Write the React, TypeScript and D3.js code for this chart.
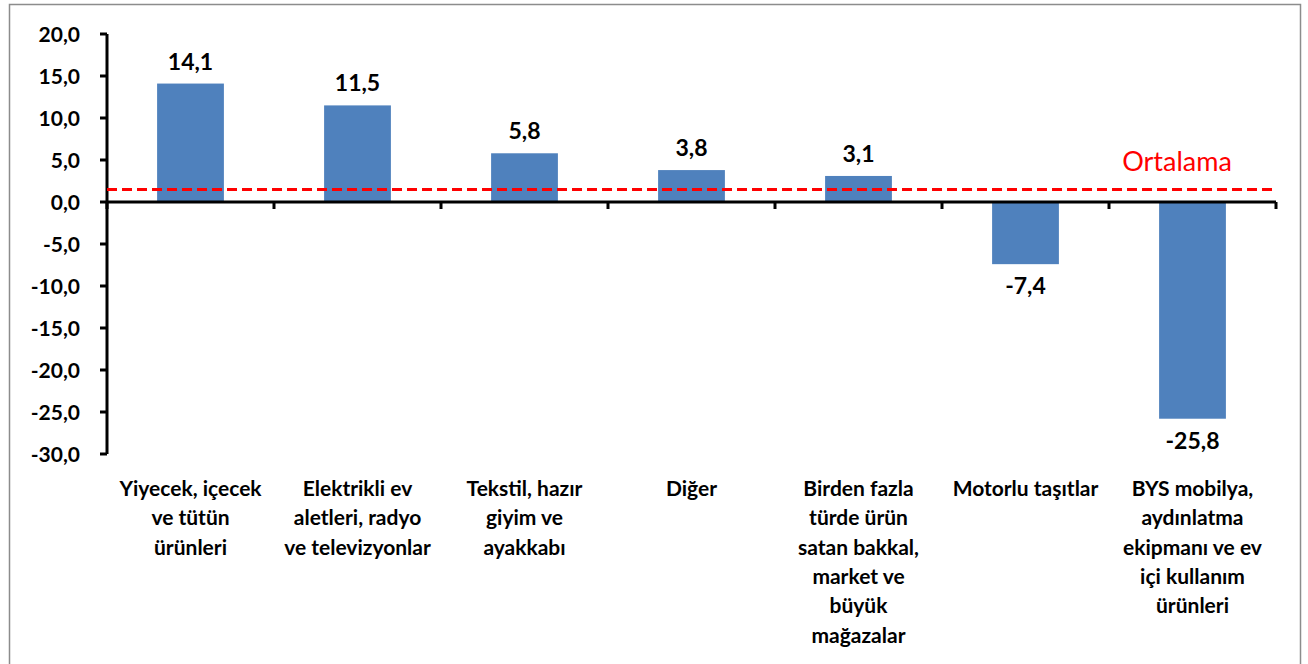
import React, { useEffect, useRef } from 'react';
import * as d3 from 'd3';

const categories = [
  'Yiyecek, içecek ve tütün ürünleri',
  'Elektrikli ev aletleri, radyo ve televizyonlar',
  'Tekstil, hazır giyim ve ayakkabı',
  'Diğer',
  'Birden fazla türde ürün satan bakkal, market ve büyük mağazalar',
  'Motorlu taşıtlar',
  'BYS mobilya, aydınlatma ekipmanı ve ev içi kullanım ürünleri',
];
const categoryLines = [
  ['Yiyecek, içecek', 've tütün', 'ürünleri'],
  ['Elektrikli ev', 'aletleri, radyo', 've televizyonlar'],
  ['Tekstil, hazır', 'giyim ve', 'ayakkabı'],
  ['Diğer'],
  ['Birden fazla', 'türde ürün', 'satan bakkal,', 'market ve', 'büyük', 'mağazalar'],
  ['Motorlu taşıtlar'],
  ['BYS mobilya,', 'aydınlatma', 'ekipmanı ve ev', 'içi kullanım', 'ürünleri'],
];
const values = [14.1, 11.5, 5.8, 3.8, 3.1, -7.4, -25.8];
const average = 1.5;
const yTicks = [20, 15, 10, 5, 0, -5, -10, -15, -20, -25, -30];

const fmt = (v: number) => v.toFixed(1).replace('.', ',');
const FONT = 'Lato, "Open Sans", sans-serif';

const App = () => {
  const svgRef = useRef<SVGSVGElement>(null);

  useEffect(() => {
    const W = 1308, H = 664;
    const svg = d3.select(svgRef.current).attr('width', W).attr('height', H);
    svg.selectAll('*').remove();

    const left = 107, right = 1276, top = 34, bottom = 454;

    svg.append('rect')
      .attr('x', 9.5).attr('y', 4.5).attr('width', 1291).attr('height', 700)
      .attr('fill', 'white').attr('stroke', '#8c8c8c').attr('stroke-width', 1.5);

    const x = d3.scaleBand().domain(categories).range([left, right]).paddingInner(0.6).paddingOuter(0.3);
    const xb = d3.scaleBand().domain(categories).range([left, right]);
    const y = d3.scaleLinear().domain([-30, 20]).range([bottom, top]);

    const g = svg.append('g');

    // bars
    g.selectAll('rect.bar')
      .data(values)
      .join('rect')
      .attr('class', 'bar')
      .attr('x', (_, i) => x(categories[i])!)
      .attr('width', x.bandwidth())
      .attr('y', (d) => y(Math.max(0, d)))
      .attr('height', (d) => Math.abs(y(d) - y(0)))
      .attr('fill', '#4F81BD');

    // value labels
    g.selectAll('text.val')
      .data(values)
      .join('text')
      .attr('class', 'val')
      .attr('x', (_, i) => x(categories[i])! + x.bandwidth() / 2)
      .attr('y', (d) => (d >= 0 ? y(d) - 14 : y(d) + 30))
      .attr('text-anchor', 'middle')
      .attr('font-family', FONT)
      .attr('font-weight', 'bold')
      .attr('font-size', 23)
      .attr('fill', '#000')
      .text((d) => fmt(d));

    // y axis
    g.append('line')
      .attr('x1', left).attr('x2', left).attr('y1', y(20)).attr('y2', y(-30))
      .attr('stroke', '#000').attr('stroke-width', 3);
    g.selectAll('line.ytick')
      .data(yTicks)
      .join('line')
      .attr('class', 'ytick')
      .attr('x1', left - 7).attr('x2', left)
      .attr('y1', (d) => y(d)).attr('y2', (d) => y(d))
      .attr('stroke', '#000').attr('stroke-width', 3);
    g.selectAll('text.ylab')
      .data(yTicks)
      .join('text')
      .attr('class', 'ylab')
      .attr('x', 80)
      .attr('y', (d) => y(d) + 7.5)
      .attr('text-anchor', 'end')
      .attr('font-family', FONT)
      .attr('font-weight', 'bold')
      .attr('font-size', 21)
      .text((d) => fmt(d));

    // x axis at zero
    g.append('line')
      .attr('x1', left).attr('x2', right).attr('y1', y(0)).attr('y2', y(0))
      .attr('stroke', '#000').attr('stroke-width', 3);
    const bounds = categories.map((c) => xb(c)!).concat([right]);
    g.selectAll('line.xtick')
      .data(bounds)
      .join('line')
      .attr('class', 'xtick')
      .attr('x1', (d) => d).attr('x2', (d) => d)
      .attr('y1', y(0)).attr('y2', y(0) + 7)
      .attr('stroke', '#000').attr('stroke-width', 3);

    // average line
    g.append('line')
      .attr('x1', left).attr('x2', right)
      .attr('y1', y(average)).attr('y2', y(average))
      .attr('stroke', '#FF0000').attr('stroke-width', 3)
      .attr('stroke-dasharray', '10,5');
    g.append('text')
      .attr('x', 1177).attr('y', 171)
      .attr('text-anchor', 'middle')
      .attr('font-family', FONT)
      .attr('font-size', 27)
      .attr('fill', '#FF0000')
      .text('Ortalama');

    // category labels
    const cat = g.selectAll('text.cat')
      .data(categories)
      .join('text')
      .attr('class', 'cat')
      .attr('text-anchor', 'middle')
      .attr('font-family', FONT)
      .attr('font-weight', 'bold')
      .attr('font-size', 21)
      .attr('fill', '#000');
    cat.each(function (c, i) {
      const t = d3.select(this);
      categoryLines[i].forEach((line, j) => {
        t.append('tspan')
          .attr('x', xb(c)! + xb.bandwidth() / 2)
          .attr('y', 496 + j * 29.3)
          .text(line);
      });
    });
  }, []);

  return (
    <div style={{ position: 'absolute', left: 0, top: 0, width: 1308, height: 664, overflow: 'hidden', background: '#fff' }}>
      <svg ref={svgRef} style={{ display: 'block' }}></svg>
    </div>
  );
};

export default App;
